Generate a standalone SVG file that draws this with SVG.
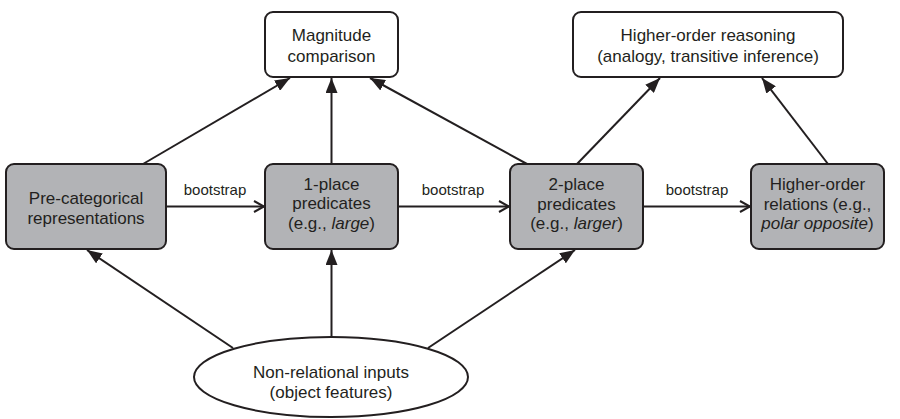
<svg xmlns="http://www.w3.org/2000/svg" width="900" height="419" viewBox="0 0 900 419">
<defs>
<style>
.box{fill:#fff;stroke:#231f20;stroke-width:2}
.gbox{fill:#b2b3b6;stroke:#231f20;stroke-width:2}
text{font-family:"Liberation Sans",Arial,sans-serif;font-size:17px;fill:#231f20;text-anchor:middle}
.lbl{font-size:15px}
.c{stroke:#231f20;stroke-width:2;fill:none}
.f{marker-end:url(#fa)}
.o{marker-end:url(#oa)}
</style>
<marker id="fa" markerUnits="userSpaceOnUse" markerWidth="16" markerHeight="12" viewBox="0 0 16 12" refX="15" refY="6" orient="auto">
<path d="M0,0 L15,6 L0,12 z" fill="#231f20"/>
</marker>
<marker id="oa" markerUnits="userSpaceOnUse" markerWidth="14" markerHeight="14" viewBox="0 0 14 14" refX="12" refY="7" orient="auto">
<path d="M2,1.5 L12,7 L2,12.5" fill="none" stroke="#231f20" stroke-width="2"/>
</marker>
</defs>
<g id="connectors">
<line class="c f" x1="143" y1="164" x2="290" y2="78"/>
<line class="c f" x1="331.5" y1="164" x2="331.5" y2="78"/>
<line class="c f" x1="527" y1="164" x2="370" y2="78"/>
<line class="c f" x1="577" y1="164" x2="660" y2="78"/>
<line class="c f" x1="828" y1="164" x2="762" y2="78"/>
<line class="c f" x1="233" y1="348" x2="87" y2="250"/>
<line class="c f" x1="331.5" y1="337" x2="331.5" y2="250"/>
<line class="c f" x1="428" y1="348" x2="575" y2="250"/>
<line class="c o" x1="166" y1="206.5" x2="264" y2="206.5"/>
<line class="c o" x1="398" y1="206.5" x2="509" y2="206.5"/>
<line class="c o" x1="643" y1="206.5" x2="750" y2="206.5"/>
<text class="lbl" x="215" y="195">bootstrap</text>
<text class="lbl" x="453" y="195">bootstrap</text>
<text class="lbl" x="697" y="195">bootstrap</text>
</g>
<g id="magnitude">
<rect class="box" x="265" y="12" width="133" height="65" rx="8"/>
<text x="331.5" y="41">Magnitude</text>
<text x="331.5" y="61.5">comparison</text>
</g>
<g id="reasoning">
<rect class="box" x="573" y="12" width="270" height="65" rx="8"/>
<text x="708" y="41">Higher-order reasoning</text>
<text x="708" y="61.5">(analogy, transitive inference)</text>
</g>
<g id="precategorical">
<rect class="gbox" x="6" y="164" width="160" height="85" rx="8"/>
<text x="86" y="203.5">Pre-categorical</text>
<text x="86" y="223.5">representations</text>
</g>
<g id="oneplace">
<rect class="gbox" x="265" y="164" width="133" height="85" rx="8"/>
<text x="331.5" y="189.5">1-place</text>
<text x="331.5" y="209">predicates</text>
<text x="331.5" y="228.5">(e.g., <tspan font-style="italic">large</tspan>)</text>
</g>
<g id="twoplace">
<rect class="gbox" x="510" y="164" width="133" height="85" rx="8"/>
<text x="576.5" y="190">2-place</text>
<text x="576.5" y="209.5">predicates</text>
<text x="576.5" y="229">(e.g., <tspan font-style="italic">larger</tspan>)</text>
</g>
<g id="higherrelations">
<rect class="gbox" x="751" y="164" width="133" height="85" rx="8"/>
<text x="817.5" y="190">Higher-order</text>
<text x="817.5" y="209.5">relations (e.g.,</text>
<text x="817.5" y="229"><tspan font-style="italic">polar opposite</tspan>)</text>
</g>
<g id="inputs">
<ellipse class="box" cx="331" cy="377" rx="137" ry="40"/>
<text x="331" y="378">Non-relational inputs</text>
<text x="331" y="398">(object features)</text>
</g>
</svg>
